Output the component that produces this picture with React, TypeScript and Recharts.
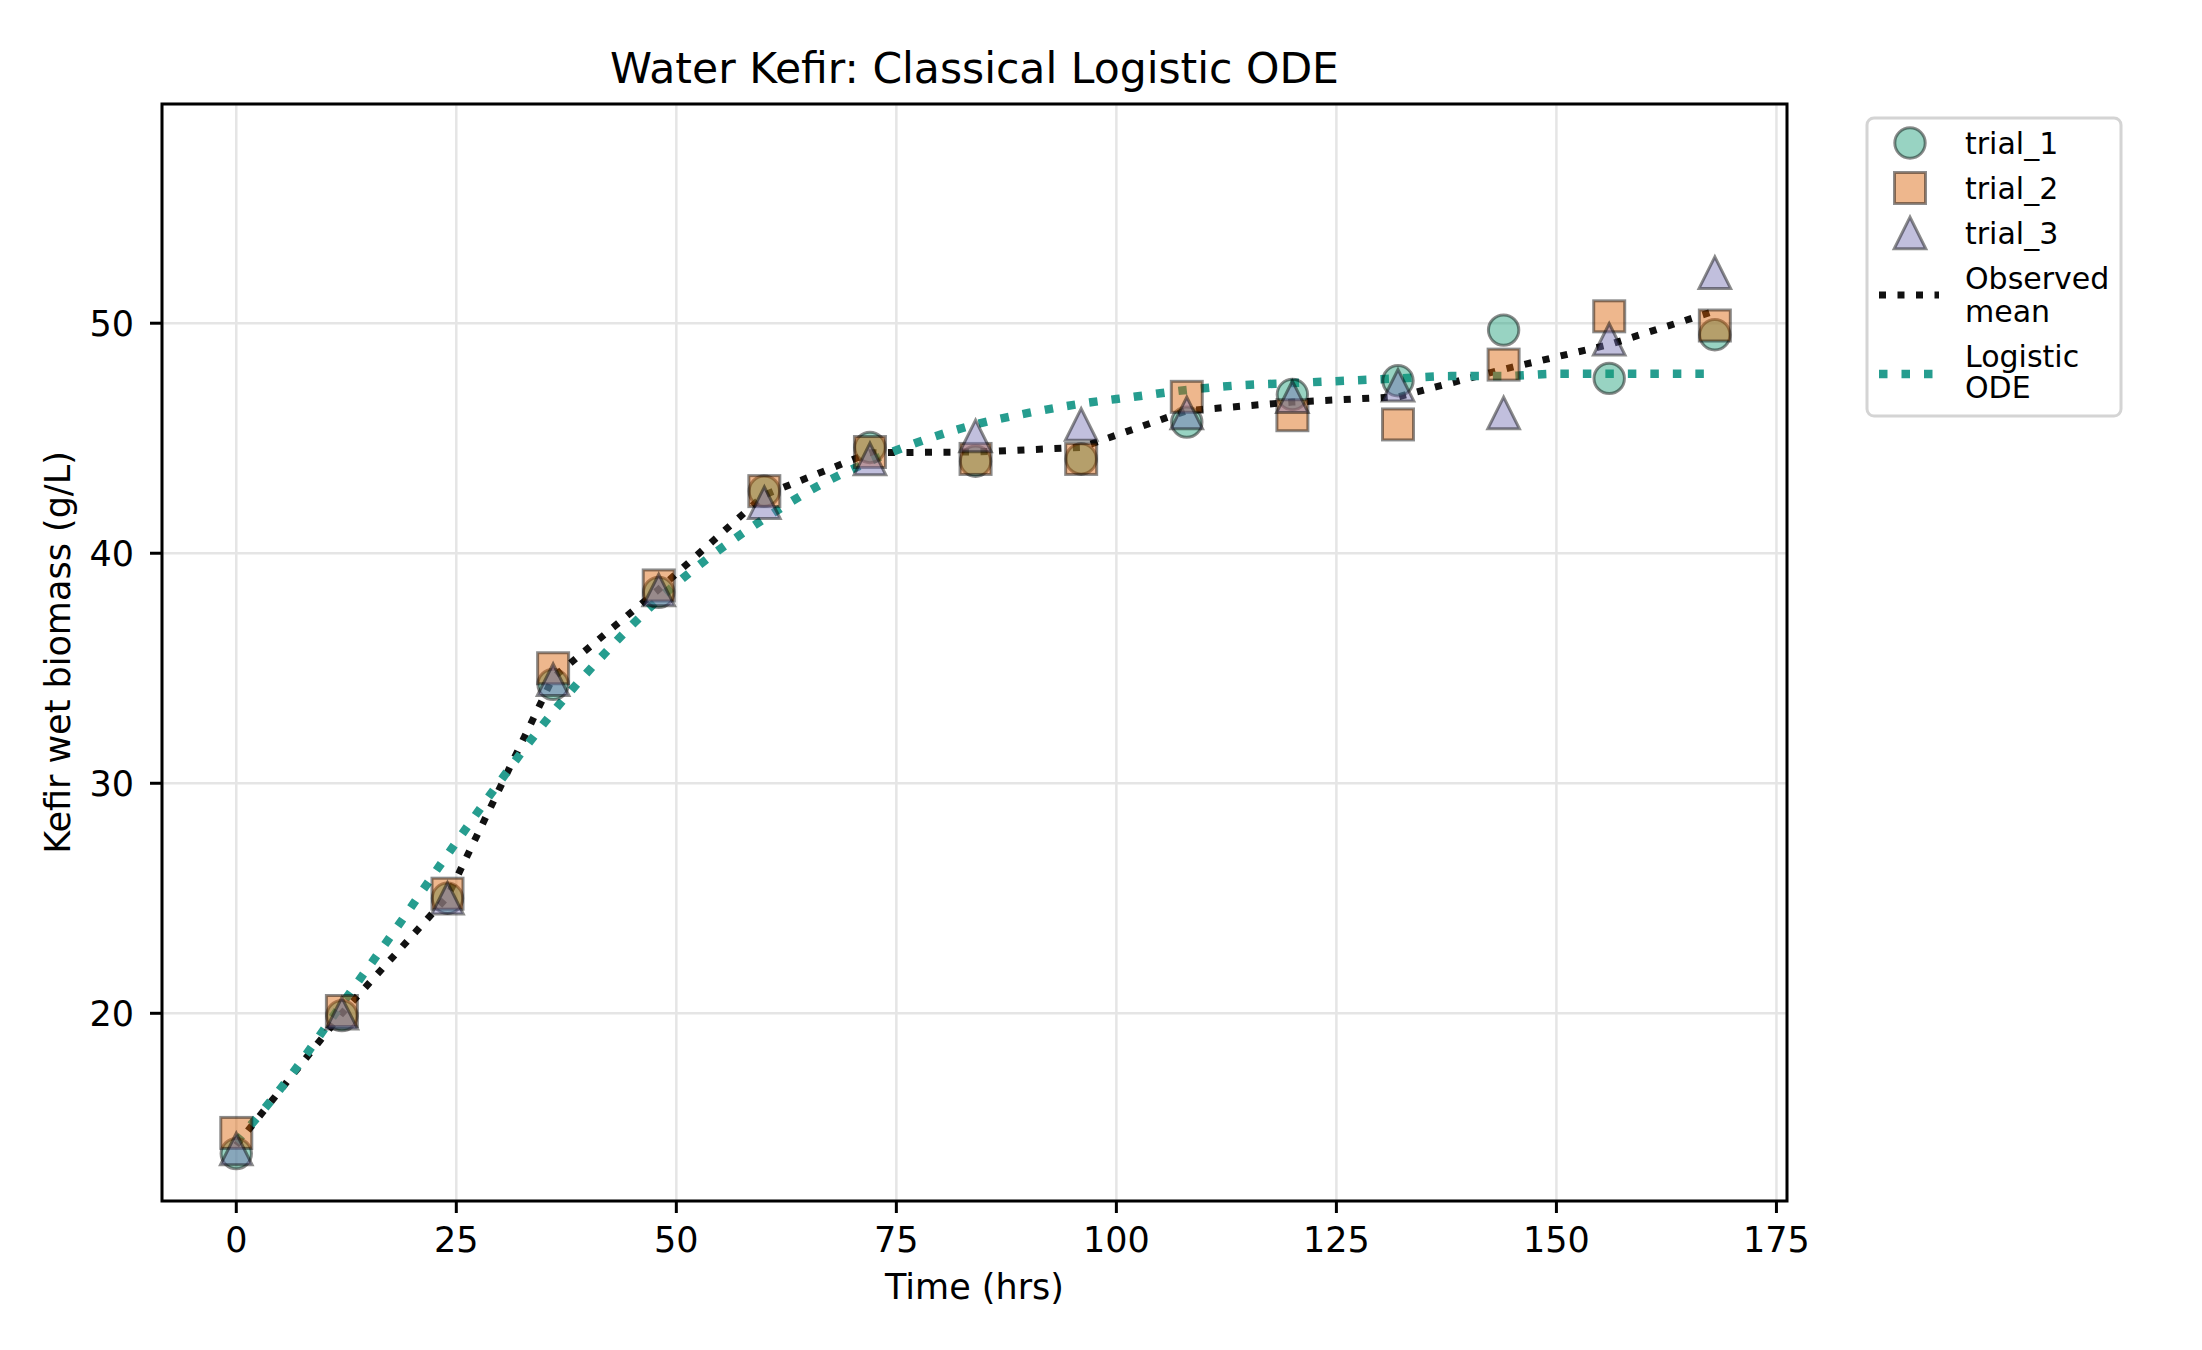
import React from "react";
import {
  ComposedChart,
  Scatter,
  Line,
  XAxis,
  YAxis,
  CartesianGrid,
  ReferenceArea,
} from "recharts";

// Sampling times (hrs) for the three trials and their mean.
const hours = [0, 12, 24, 36, 48, 60, 72, 84, 96, 108, 120, 132, 144, 156, 168];

// Wet biomass (g/L) per trial.
const trial1 = [13.9, 19.9, 25.0, 34.3, 38.3, 42.7, 44.6, 44.0, 44.1, 45.7, 46.9, 47.5, 49.7, 47.6, 49.5];
const trial2 = [14.8, 20.1, 25.2, 35.0, 38.6, 42.7, 44.4, 44.1, 44.1, 46.8, 46.0, 45.6, 48.2, 50.3, 49.9];
const trial3 = [14.1, 20.0, 25.0, 34.5, 38.4, 42.2, 44.1, 45.1, 45.6, 46.1, 46.8, 47.3, 46.1, 49.3, 52.2];
const observedMean = [14.27, 20.0, 25.07, 34.6, 38.43, 42.53, 44.37, 44.4, 44.6, 46.2, 46.57, 46.8, 48.0, 49.07, 50.53];

// Fitted logistic ODE curve, sampled every 6 hrs.
const odeHours = [0, 6, 12, 18, 24, 30, 36, 42, 48, 54, 60, 66, 72, 78, 84, 90, 96, 102, 108, 114, 120, 126, 132, 138, 144, 150, 156, 162, 168];
const odeValues = [14.4, 17.2, 20.4, 23.6, 26.9, 30.1, 33.1, 35.7, 38.0, 39.9, 41.5, 42.9, 44.0, 44.9, 45.6, 46.1, 46.5, 46.8, 47.1, 47.3, 47.4, 47.5, 47.6, 47.7, 47.7, 47.8, 47.8, 47.8, 47.8];

const xTicks = [0, 25, 50, 75, 100, 125, 150, 175];
const yTicks = [20, 30, 40, 50];

const FONT = "'DejaVu Sans', sans-serif";
const DARK2 = ["#1b9e77", "#d95f02", "#7570b3"];
const TEAL = "#269d8f";
const X_DOMAIN: [number, number] = [-8.44, 176.2];
const Y_DOMAIN: [number, number] = [11.84, 59.53];

const toPoints = (xs: number[], ys: number[]) => xs.map((t, i) => ({ t, y: ys[i] }));

const markerStyle = (color: string) => ({
  fill: color,
  fillOpacity: 0.45,
  stroke: "#000",
  strokeOpacity: 0.45,
  strokeWidth: 3,
});

function CircleMark({ cx, cy, color }: { cx: number; cy: number; color: string }) {
  return <circle cx={cx} cy={cy} r={15.2} {...markerStyle(color)} />;
}

function SquareMark({ cx, cy, color }: { cx: number; cy: number; color: string }) {
  return <rect x={cx - 15.5} y={cy - 15.5} width={31} height={31} {...markerStyle(color)} />;
}

function TriangleMark({ cx, cy, color }: { cx: number; cy: number; color: string }) {
  const h = 15.8;
  const d = `M${cx},${cy - h} L${cx - h},${cy + h} L${cx + h},${cy + h} Z`;
  return <path d={d} strokeLinejoin="miter" {...markerStyle(color)} />;
}

const tickStyle = { fill: "#000", fontSize: 35, fontFamily: FONT };

export default function App() {
  return (
    <div
      style={{
        position: "absolute",
        left: 0,
        top: 0,
        width: 2202,
        height: 1350,
        background: "#fff",
        fontFamily: FONT,
      }}
    >
      <ComposedChart
        width={2202}
        height={1350}
        margin={{ top: 104, right: 415, bottom: 69, left: 62 }}
      >
        <CartesianGrid stroke="#e5e5e5" strokeWidth={2.5} />
        <XAxis
          type="number"
          dataKey="t"
          domain={X_DOMAIN}
          allowDataOverflow
          ticks={xTicks}
          interval={0}
          height={80}
          axisLine={false}
          tickLine={{ stroke: "#000", strokeWidth: 3 }}
          tickSize={12}
          tickMargin={14}
          tick={tickStyle}
          label={{
            content: ({ viewBox }: any) => (
              <text
                x={viewBox.x + viewBox.width / 2}
                y={1299}
                textAnchor="middle"
                fontSize={35}
                fontFamily={FONT}
                fill="#000"
              >
                Time (hrs)
              </text>
            ),
          }}
        />
        <YAxis
          type="number"
          domain={Y_DOMAIN}
          allowDataOverflow
          ticks={yTicks}
          interval={0}
          width={100}
          axisLine={false}
          tickLine={{ stroke: "#000", strokeWidth: 3 }}
          tickSize={12}
          tickMargin={16}
          tick={tickStyle}
          label={{
            content: ({ viewBox }: any) => {
              const cy = viewBox.y + viewBox.height / 2;
              return (
                <text
                  x={70}
                  y={cy}
                  transform={`rotate(-90, 70, ${cy})`}
                  textAnchor="middle"
                  fontSize={35}
                  fontFamily={FONT}
                  fill="#000"
                >
                  Kefir wet biomass (g/L)
                </text>
              );
            },
          }}
        />

        <Scatter
          name="trial_1"
          data={toPoints(hours, trial1)}
          dataKey="y"
          isAnimationActive={false}
          shape={(p: any) => <CircleMark cx={p.cx} cy={p.cy} color={DARK2[0]} />}
        />
        <Scatter
          name="trial_2"
          data={toPoints(hours, trial2)}
          dataKey="y"
          isAnimationActive={false}
          shape={(p: any) => <SquareMark cx={p.cx} cy={p.cy} color={DARK2[1]} />}
        />
        <Scatter
          name="trial_3"
          data={toPoints(hours, trial3)}
          dataKey="y"
          isAnimationActive={false}
          shape={(p: any) => <TriangleMark cx={p.cx} cy={p.cy} color={DARK2[2]} />}
        />

        <Line
          name="Observed mean"
          data={toPoints(hours, observedMean)}
          dataKey="y"
          type="linear"
          stroke="#111"
          strokeWidth={7}
          strokeDasharray="7 11.5"
          dot={false}
          activeDot={false}
          isAnimationActive={false}
        />
        <Line
          name="Logistic ODE"
          data={toPoints(odeHours, odeValues)}
          dataKey="y"
          type="monotone"
          stroke={TEAL}
          strokeWidth={8.5}
          strokeDasharray="8.5 14"
          dot={false}
          activeDot={false}
          isAnimationActive={false}
        />

        {/* axes frame */}
        <ReferenceArea
          x1={X_DOMAIN[0]}
          x2={X_DOMAIN[1]}
          y1={Y_DOMAIN[0]}
          y2={Y_DOMAIN[1]}
          fill="none"
          fillOpacity={0}
          stroke="#000"
          strokeWidth={3}
          ifOverflow="visible"
        />
      </ComposedChart>

      {/* title + legend overlay */}
      <svg
        width={2202}
        height={1350}
        style={{ position: "absolute", left: 0, top: 0, pointerEvents: "none" }}
      >
        <text x={974.5} y={83} textAnchor="middle" fontSize={42.5} fontFamily={FONT} fill="#000">
          Water Kefir: Classical Logistic ODE
        </text>

        <rect x={1867} y={118} width={254} height={298} rx={7} fill="#fff" fillOpacity={0.8} stroke="#d4d4d4" strokeWidth={3} />
        <CircleMark cx={1910} cy={143} color={DARK2[0]} />
        <SquareMark cx={1910} cy={188} color={DARK2[1]} />
        <TriangleMark cx={1910} cy={233} color={DARK2[2]} />
        <line x1={1879} y1={295} x2={1939} y2={295} stroke="#111" strokeWidth={7} strokeDasharray="7 11.5" />
        <line x1={1879} y1={374} x2={1939} y2={374} stroke={TEAL} strokeWidth={8.5} strokeDasharray="8.5 14" />
        <g fontSize={30} fontFamily={FONT} fill="#000">
          <text x={1965} y={154}>trial_1</text>
          <text x={1965} y={199}>trial_2</text>
          <text x={1965} y={244}>trial_3</text>
          <text x={1965} y={289}>Observed</text>
          <text x={1965} y={322}>mean</text>
          <text x={1965} y={367}>Logistic</text>
          <text x={1965} y={398}>ODE</text>
        </g>
      </svg>
    </div>
  );
}
